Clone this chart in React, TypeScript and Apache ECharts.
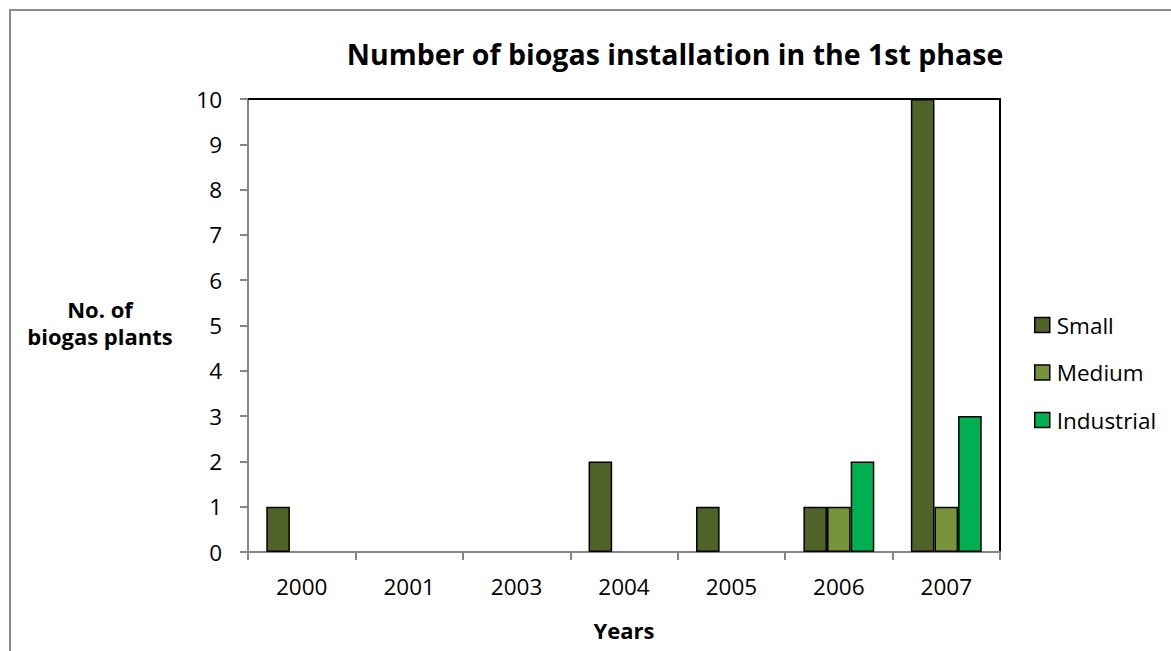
import React, { useEffect, useRef } from "react";
import * as echarts from "echarts";

const years = ["2000", "2001", "2003", "2004", "2005", "2006", "2007"];
const small = [1, 0, 0, 2, 1, 1, 10];
const medium = [0, 0, 0, 0, 0, 1, 1];
const industrial = [0, 0, 0, 0, 0, 2, 3];
const seriesNames = ["Small", "Medium", "Industrial"];
const seriesColors = ["#4F6228", "#77933C", "#00B050"];

const FONT = "'Open Sans', sans-serif";

export default function App() {
  const ref = useRef<HTMLDivElement>(null);
  useEffect(() => {
    if (!ref.current) return;
    const chart = echarts.init(ref.current, null, { renderer: "svg" });
    const values = [small, medium, industrial];
    chart.setOption({
      animation: false,
      backgroundColor: "#fff",
      title: {
        text: "Number of biogas installation in the 1st phase",
        left: 670,
        top: 34,
        textAlign: "center",
        textStyle: { fontFamily: FONT, fontWeight: "bold", fontSize: 28.5, color: "#000" },
      },
      graphic: [
        {
          type: "rect",
          shape: { x: 10, y: 10, width: 1400, height: 900 },
          style: { fill: "none", stroke: "#8a8a8a", lineWidth: 2 },
          silent: true,
        },
        {
          type: "text",
          x: 100,
          y: 322,
          style: {
            text: "No. of\nbiogas plants",
            fontFamily: FONT,
            fontWeight: "bold",
            fontSize: 22,
            lineHeight: 27,
            align: "center",
            verticalAlign: "middle",
            fill: "#000",
          },
        },
      ],
      legend: {
        orient: "vertical",
        left: 1029,
        top: 308,
        itemWidth: 15,
        itemHeight: 15,
        itemGap: 23.5,
        icon: "rect",
        data: seriesNames,
        itemStyle: { borderColor: "#000", borderWidth: 1.5 },
        textStyle: { fontFamily: FONT, fontSize: 22.5, lineHeight: 24, color: "#000", padding: [0, 0, 0, 2] },
      },
      grid: { left: 248, top: 99, right: 171, bottom: 99, containLabel: false },
      xAxis: [
        {
          type: "category",
          data: years,
          boundaryGap: true,
          name: "Years",
          nameLocation: "middle",
          nameGap: 67,
          nameTextStyle: { fontFamily: FONT, fontWeight: "bold", fontSize: 22, color: "#000" },
          axisLine: { lineStyle: { color: "#868686", width: 2 } },
          axisTick: { show: true, interval: 0, length: 8, lineStyle: { color: "#868686", width: 2 } },
          axisLabel: { fontFamily: FONT, fontSize: 22.5, color: "#000", margin: 23 },
        },
        {
          type: "category",
          data: years,
          position: "top",
          axisLine: { show: true, onZero: false, lineStyle: { color: "#000", width: 2 } },
          axisTick: { show: false },
          axisLabel: { show: false },
        },
      ],
      yAxis: [
        {
          type: "value",
          min: 0,
          max: 10,
          interval: 1,
          axisLine: { show: true, lineStyle: { color: "#868686", width: 2 } },
          axisTick: { show: true, length: 8, lineStyle: { color: "#868686", width: 2 } },
          splitLine: { show: false },
          axisLabel: { fontFamily: FONT, fontSize: 22.5, color: "#000", margin: 26 },
        },
        {
          type: "value",
          min: 0,
          max: 10,
          interval: 1,
          position: "right",
          axisLine: { show: true, onZero: false, lineStyle: { color: "#000", width: 2 } },
          axisTick: { show: false },
          splitLine: { show: false },
          axisLabel: { show: false },
        },
      ],
      series: seriesNames.map((name, i) => ({
        name,
        type: "bar",
        xAxisIndex: 0,
        yAxisIndex: 0,
        data: values[i].map((v) => (v === 0 ? null : v)),
        barGap: "0%",
        barCategoryGap: "34%",
        itemStyle: { color: seriesColors[i], borderColor: "#000", borderWidth: 1.5 },
      })),
    });
    return () => chart.dispose();
  }, []);
  return <div ref={ref} style={{ width: 1171, height: 651, position: "absolute", left: 0, top: 0 }} />;
}
